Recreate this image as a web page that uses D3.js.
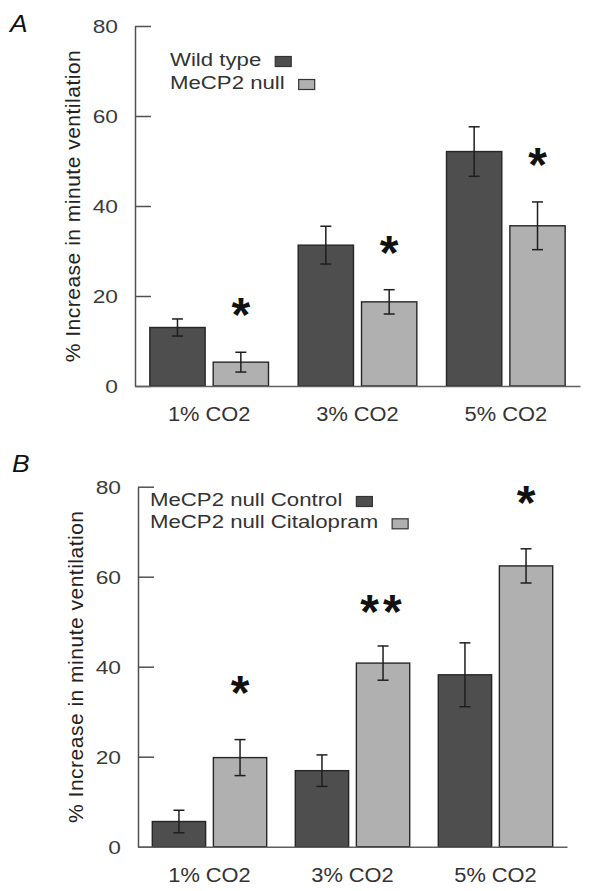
<!DOCTYPE html>
<html><head><meta charset="utf-8">
<script src="https://cdn.jsdelivr.net/npm/d3@7"></script>
<style>body{margin:0;background:#fff} svg{display:block} text{font-family:"Liberation Sans",Arial,Helvetica,sans-serif}</style>
</head><body><svg id="c" width="589" height="891"></svg>
<script>
// ---- data ----
const categories = ["1% CO2", "3% CO2", "5% CO2"];
const yTicks = [0, 20, 40, 60, 80];
const yLabel = "% Increase in minute ventilation";
// Panel A
const seriesA = ["Wild type", "MeCP2 null"];
const wildType = [13.0, 31.3, 52.1];
const wildTypeErr = [1.9, 4.2, 5.5];
const mecp2Null = [5.3, 18.7, 35.6];
const mecp2NullErr = [2.2, 2.7, 5.3];
const sigA = ["*", "*", "*"];
const sigAHeight = [18.4, 32.1, 51.6];
// Panel B
const seriesB = ["MeCP2 null Control", "MeCP2 null Citalopram"];
const control = [5.6, 16.9, 38.2];
const controlErr = [2.5, 3.5, 7.1];
const citalopram = [19.8, 40.8, 62.4];
const citalopramErr = [4.0, 3.8, 3.8];
const sigB = ["*", "**", "*"];
const sigBHeight = [36.7, 54.8, 78.9];

const colors = ["#4e4e4e", "#b0b0b0"];
const svg = d3.select("#c");

function panel(o) {
  const g = svg.append("g");
  const x = d3.scaleBand().domain(categories).range([o.x0, o.x1]).paddingInner(0.2).paddingOuter(0.1);
  const xi = d3.scaleBand().domain([0, 1]).range([0, x.bandwidth()]).paddingInner(0.127);
  const y = d3.scaleLinear().domain([0, 80]).range([o.yBot, o.yTop]);

  // bars
  o.values.forEach((vals, s) => {
    const gs = g.append("g");
    gs.selectAll("rect").data(vals).join("rect")
      .attr("x", (d, i) => x(categories[i]) + xi(s))
      .attr("width", xi.bandwidth())
      .attr("y", d => y(d))
      .attr("height", d => y(0) - y(d))
      .attr("fill", colors[s]).attr("stroke", "#262626").attr("stroke-width", 1.4);
    const cx = i => x(categories[i]) + xi(s) + xi.bandwidth() / 2;
    const errs = o.errs[s];
    const eg = g.append("g").attr("stroke", "#1e1e1e").attr("stroke-width", 1.5);
    vals.forEach((d, i) => {
      const e = errs[i];
      eg.append("line").attr("x1", cx(i)).attr("x2", cx(i)).attr("y1", y(d - e)).attr("y2", y(d + e));
      eg.append("line").attr("x1", cx(i) - 5.5).attr("x2", cx(i) + 5.5).attr("y1", y(d + e)).attr("y2", y(d + e));
      eg.append("line").attr("x1", cx(i) - 5.5).attr("x2", cx(i) + 5.5).attr("y1", y(d - e)).attr("y2", y(d - e));
    });
  });

  // significance
  o.sig.forEach((t, i) => {
    const cx = x(categories[i]) + xi(1) + xi.bandwidth() / 2;
    g.append("text").attr("x", cx).attr("y", y(o.sigH[i]) + 0.575 * 48)
      .attr("text-anchor", "middle").attr("font-size", 48).attr("font-weight", "bold").attr("fill", "#111")
      .attr("letter-spacing", t.length > 1 ? 4 : 0)
      .text(t);
  });

  // y axis
  const ya = g.append("g").attr("transform", `translate(${o.x0},0)`)
    .call(d3.axisLeft(y).tickValues(yTicks).tickSize(-16).tickSizeOuter(0).tickPadding(17));
  ya.select(".domain").attr("stroke", "#505050").attr("stroke-width", 1.5);
  ya.selectAll(".tick line").attr("stroke", "#505050").attr("stroke-width", 1.5);
  ya.selectAll(".tick text").attr("x", null).attr("dy", "0.36em")
    .attr("transform", "translate(-17,0) scale(1.3,1)")
    .attr("font-size", 17.5).attr("fill", "#3a3a3a").attr("font-family", null);

  // x axis
  const xa = g.append("g").attr("transform", `translate(0,${o.yBot})`)
    .call(d3.axisBottom(x).tickSize(0).tickSizeOuter(0));
  xa.select(".domain").attr("stroke", "#606060").attr("stroke-width", 1.5);
  xa.selectAll(".tick text").attr("y", null).attr("dy", null)
    .attr("transform", "translate(0,35) scale(1.12,1)")
    .attr("font-size", 19.5).attr("fill", "#333").attr("font-family", null);

  // y label
  g.append("text").attr("transform", `translate(${o.x0 - 55},${(o.yTop + o.yBot) / 2}) rotate(-90)`)
    .attr("text-anchor", "middle").attr("font-size", 21).attr("letter-spacing", 0.5)
    .attr("fill", "#222").text(yLabel);

  // panel letter
  g.append("text").attr("transform", `translate(${o.lx},${o.ly}) scale(1.1,1)`)
    .attr("font-size", 24).attr("font-style", "italic").attr("fill", "#111").text(o.letter);

  // legend
  o.series.forEach((name, s) => {
    const by = o.legY + s * o.legDy;
    const t = g.append("text").attr("transform", `translate(${o.legX},${by}) scale(1.2,1)`)
      .attr("font-size", 18.5).attr("fill", "#333").text(name);
    const w = t.node().getComputedTextLength() * 1.2;
    g.append("rect").attr("x", o.legX + w + 14).attr("y", by - 9.5).attr("width", 16).attr("height", 10)
      .attr("fill", colors[s]).attr("stroke", "#333").attr("stroke-width", 1.2);
  });
}

panel({letter: "A", lx: 10, ly: 31.7, x0: 135, x1: 580, yTop: 26, yBot: 386,
  series: seriesA, values: [wildType, mecp2Null], errs: [wildTypeErr, mecp2NullErr],
  sig: sigA, sigH: sigAHeight, legX: 170, legY: 66, legDy: 23});
panel({letter: "B", lx: 12, ly: 471.7, x0: 138, x1: 567, yTop: 486.7, yBot: 846.7,
  series: seriesB, values: [control, citalopram], errs: [controlErr, citalopramErr],
  sig: sigB, sigH: sigBHeight, legX: 150, legY: 506, legDy: 22.3});
</script>
</body></html>
